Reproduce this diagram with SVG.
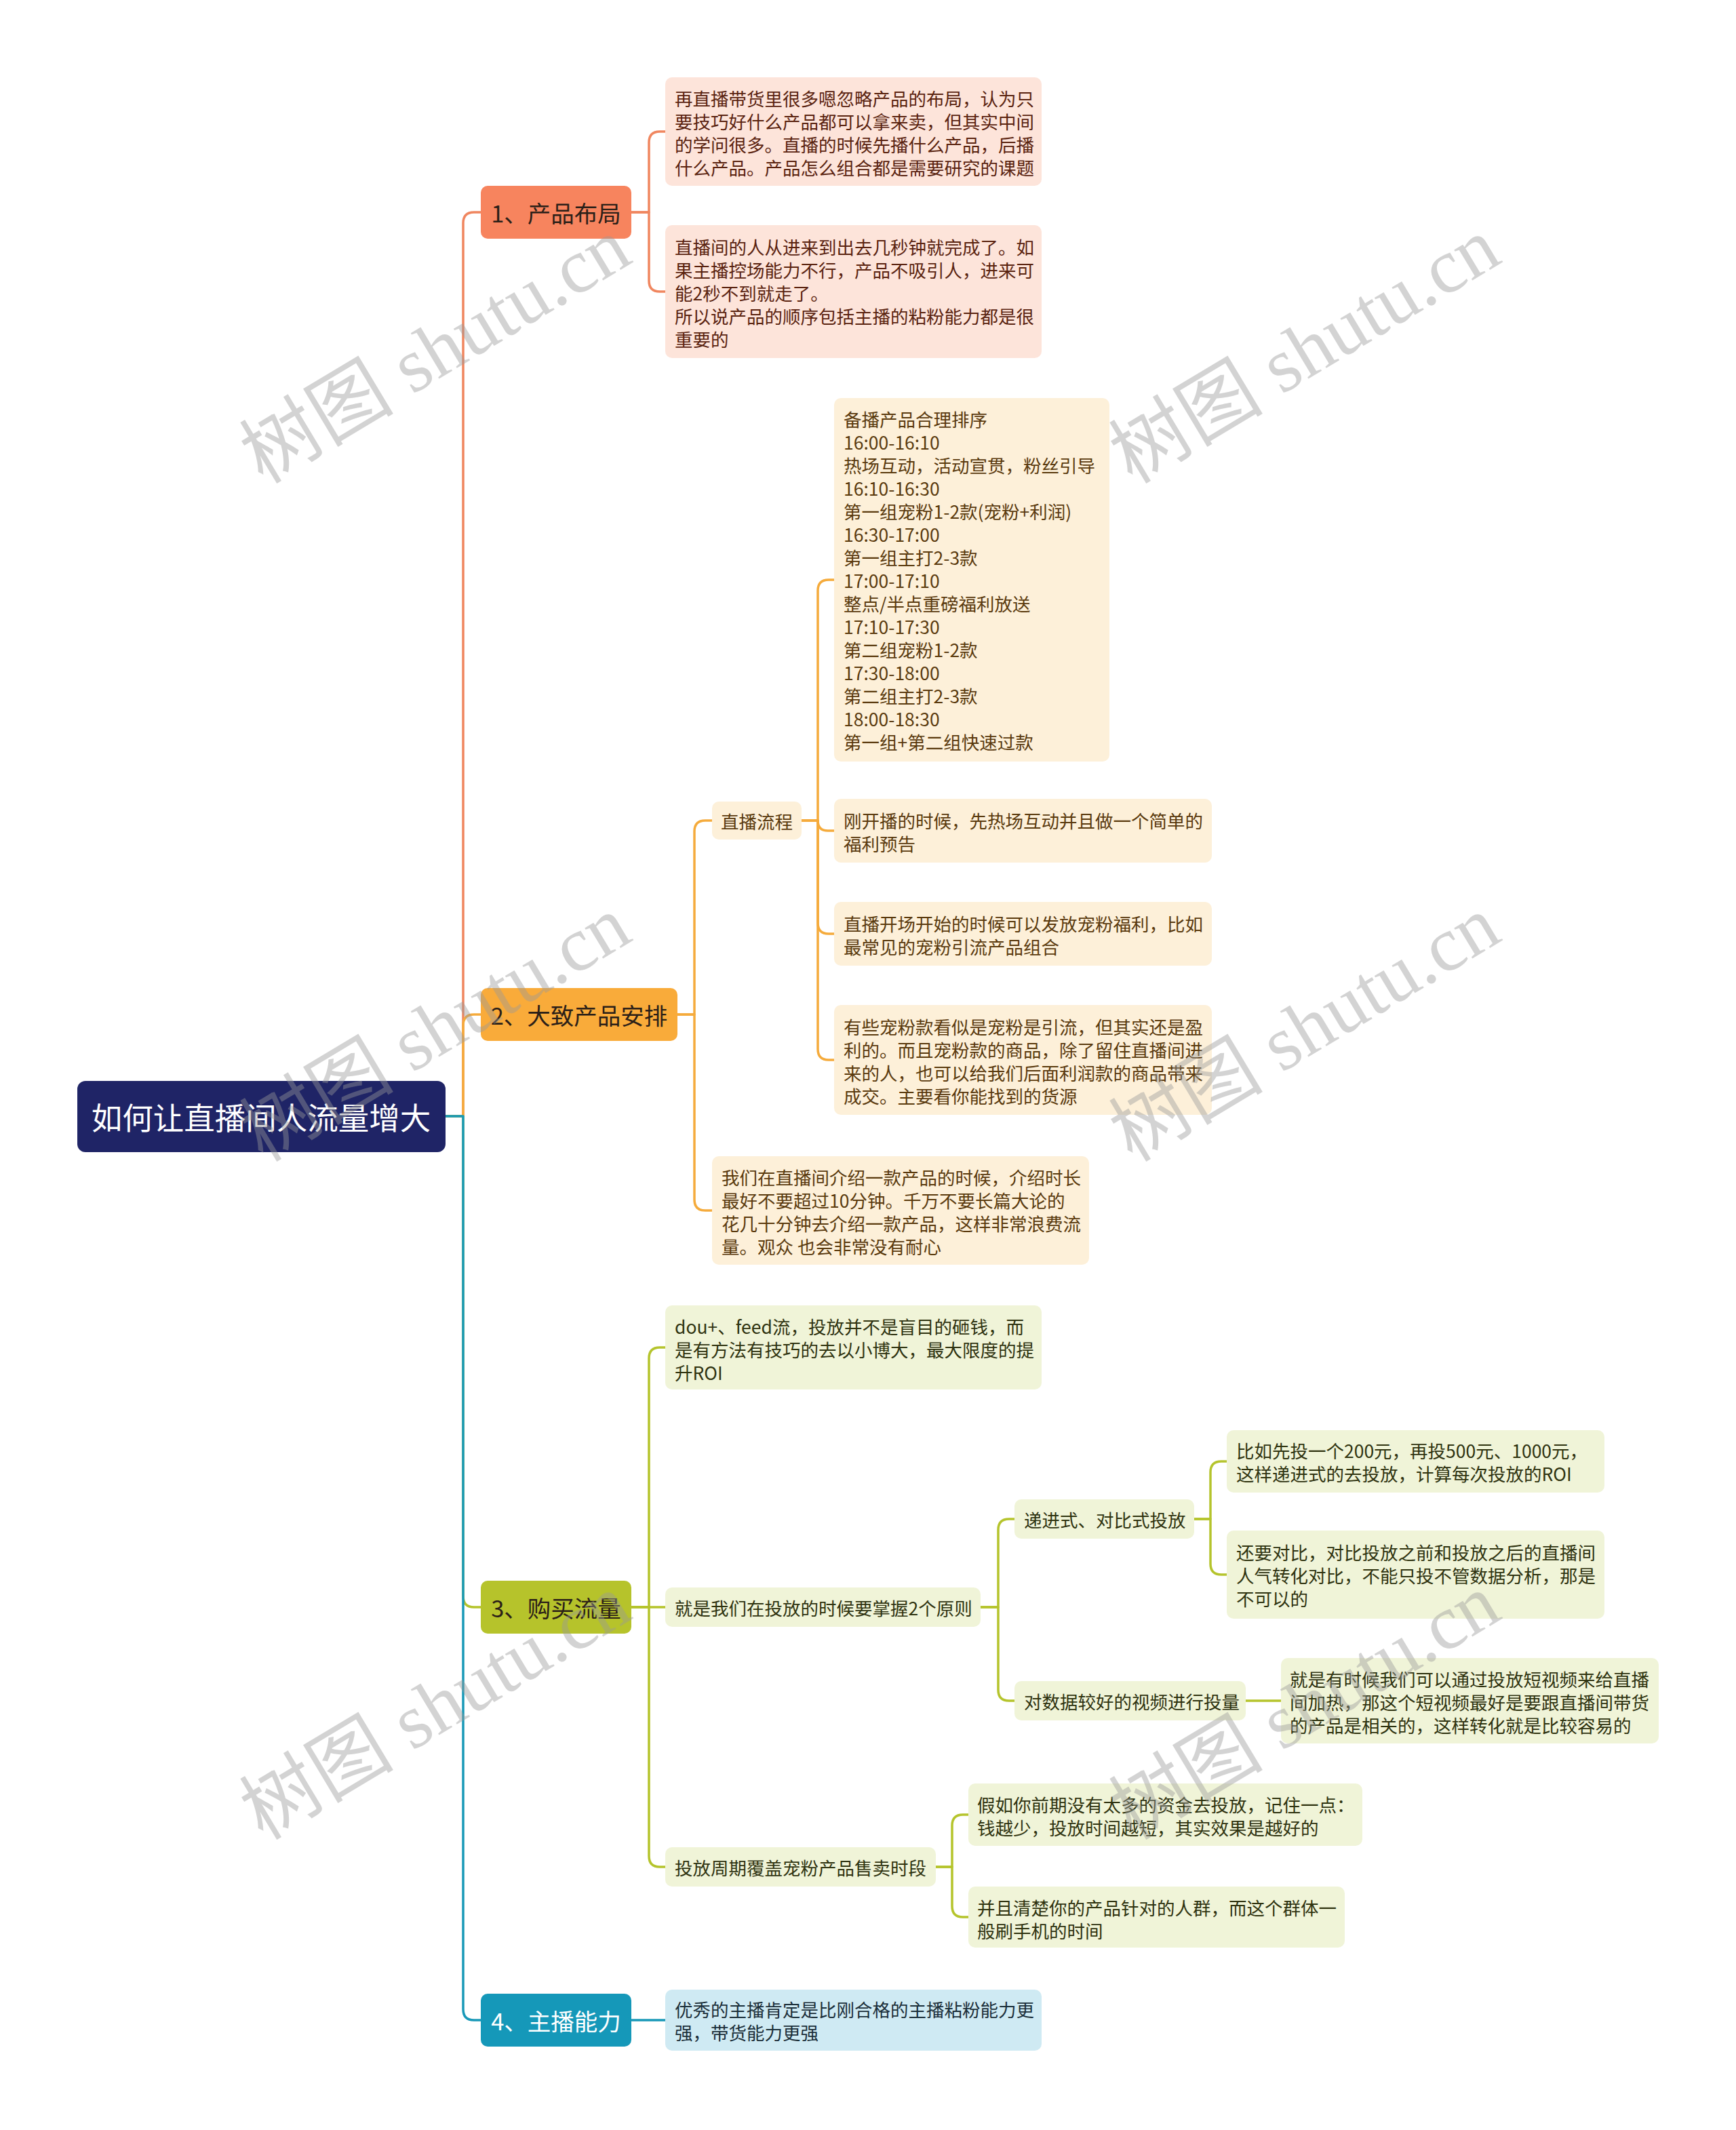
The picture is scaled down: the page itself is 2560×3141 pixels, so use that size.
<svg xmlns="http://www.w3.org/2000/svg" width="2560" height="3141" viewBox="0 0 2560 3141">
<style>
text{font-family:"Noto Sans CJK SC","Liberation Sans",sans-serif;}
.root{fill:#1f2466;}
.rt{fill:#ffffff;font-size:45.5px;}
.bt{font-size:34.5px;fill:#2b2018;}
.ct{font-size:26.5px;}
.b1{fill:#f7845e;}
.b2{fill:#f9ab3a;}
.b3{fill:#b6c32b;}
.b4{fill:#1598b9;}
.c1{fill:#fde4da;}
.c2{fill:#fdf0d9;}
.c3{fill:#f0f4d8;}
.c4{fill:#cfeaf3;}
.t1{fill:#5a2310;}
.t2{fill:#5a3a0e;}
.t3{fill:#2f3310;}
.t4{fill:#1b2f3a;}
.l{fill:none;stroke-width:3.5;stroke-linecap:round;stroke-linejoin:round;}
.s1{stroke:#f0865f;}
.s2{stroke:#f5ab3c;}
.s3{stroke:#b5c42c;}
.s4{stroke:#1a99b8;}
.wm{font-family:"Liberation Serif","Noto Sans CJK SC",serif;font-size:114px;fill:#999999;opacity:0.42;}
</style>
<rect width="2560" height="3141" fill="#ffffff"/>
<g id="connectors">
<path class="l s1" d="M657 1646 H683 V329 Q683 313 699 313 H709"/>
<path class="l s2" d="M657 1646 H683 V1512 Q683 1496 699 1496 H709"/>
<path class="l s3" d="M657 1646 H683 V2354 Q683 2370 699 2370 H709"/>
<path class="l s4" d="M657 1646 H683 V2963 Q683 2979 699 2979 H709"/>
<path class="l s1" d="M931 313 H957 V210 Q957 194 973 194 H981"/>
<path class="l s1" d="M931 313 H957 V414 Q957 430 973 430 H981"/>
<path class="l s2" d="M999 1496 H1024 V1226 Q1024 1210 1040 1210 H1050"/>
<path class="l s2" d="M999 1496 H1024 V1769 Q1024 1785 1040 1785 H1050"/>
<path class="l s2" d="M1182 1210 H1206 V871 Q1206 855 1222 855 H1230"/>
<path class="l s2" d="M1182 1210 H1206 Q1206 1225 1221 1225 H1230"/>
<path class="l s2" d="M1182 1210 H1206 V1361 Q1206 1377 1222 1377 H1230"/>
<path class="l s2" d="M1182 1210 H1206 V1547 Q1206 1563 1222 1563 H1230"/>
<path class="l s3" d="M931 2370 H957 V2003 Q957 1987 973 1987 H981"/>
<path class="l s3" d="M931 2370 H981"/>
<path class="l s3" d="M931 2370 H957 V2737 Q957 2753 973 2753 H981"/>
<path class="l s3" d="M1446 2370 H1472 V2256 Q1472 2240 1488 2240 H1496"/>
<path class="l s3" d="M1446 2370 H1472 V2492 Q1472 2508 1488 2508 H1496"/>
<path class="l s3" d="M1761 2240 H1785 V2171 Q1785 2155 1801 2155 H1809"/>
<path class="l s3" d="M1761 2240 H1785 V2306 Q1785 2322 1801 2322 H1809"/>
<path class="l s3" d="M1837 2508 H1889"/>
<path class="l s3" d="M1380 2753 H1404 V2692 Q1404 2676 1420 2676 H1428"/>
<path class="l s3" d="M1380 2753 H1404 V2811 Q1404 2827 1420 2827 H1428"/>
<path class="l s4" d="M931 2979 H981"/>
</g>
<g id="root">
<rect class="root" x="114" y="1594" width="543" height="105" rx="12"/>
<text class="rt" x="385" y="1646" text-anchor="middle" dominant-baseline="central">如何让直播间人流量增大</text>
</g>
<g id="b1">
<rect class="b1" x="709" y="274" width="222" height="78" rx="10"/>
<text class="bt" x="820" y="313" text-anchor="middle" dominant-baseline="central">1、产品布局</text>
</g>
<g id="b1a">
<rect class="c1" x="981" y="114" width="555" height="160" rx="10"/>
<text class="ct t1" dominant-baseline="central"><tspan x="995" y="144">再直播带货里很多嗯忽略产品的布局，认为只</tspan><tspan x="995" y="178">要技巧好什么产品都可以拿来卖，但其实中间</tspan><tspan x="995" y="212">的学问很多。直播的时候先播什么产品，后播</tspan><tspan x="995" y="246">什么产品。产品怎么组合都是需要研究的课题</tspan></text>
</g>
<g id="b1b">
<rect class="c1" x="981" y="332" width="555" height="196" rx="10"/>
<text class="ct t1" dominant-baseline="central"><tspan x="995" y="363">直播间的人从进来到出去几秒钟就完成了。如</tspan><tspan x="995" y="397">果主播控场能力不行，产品不吸引人，进来可</tspan><tspan x="995" y="431">能2秒不到就走了。</tspan><tspan x="995" y="465">所以说产品的顺序包括主播的粘粉能力都是很</tspan><tspan x="995" y="499">重要的</tspan></text>
</g>
<g id="b2">
<rect class="b2" x="709" y="1457" width="290" height="78" rx="10"/>
<text class="bt" x="854" y="1496" text-anchor="middle" dominant-baseline="central">2、大致产品安排</text>
</g>
<g id="b2a">
<rect class="c2" x="1050" y="1182" width="132" height="56" rx="10"/>
<text class="ct t2" x="1116" y="1210" text-anchor="middle" dominant-baseline="central">直播流程</text>
</g>
<g id="b2a1">
<rect class="c2" x="1230" y="587" width="406" height="536" rx="10"/>
<text class="ct t2" dominant-baseline="central"><tspan x="1244" y="617">备播产品合理排序</tspan><tspan x="1244" y="651">16:00-16:10</tspan><tspan x="1244" y="685">热场互动，活动宣贯，粉丝引导</tspan><tspan x="1244" y="719">16:10-16:30</tspan><tspan x="1244" y="753">第一组宠粉1-2款(宠粉+利润)</tspan><tspan x="1244" y="787">16:30-17:00</tspan><tspan x="1244" y="821">第一组主打2-3款</tspan><tspan x="1244" y="855">17:00-17:10</tspan><tspan x="1244" y="889">整点/半点重磅福利放送</tspan><tspan x="1244" y="923">17:10-17:30</tspan><tspan x="1244" y="957">第二组宠粉1-2款</tspan><tspan x="1244" y="991">17:30-18:00</tspan><tspan x="1244" y="1025">第二组主打2-3款</tspan><tspan x="1244" y="1059">18:00-18:30</tspan><tspan x="1244" y="1093">第一组+第二组快速过款</tspan></text>
</g>
<g id="b2a2">
<rect class="c2" x="1230" y="1178" width="557" height="94" rx="10"/>
<text class="ct t2" dominant-baseline="central"><tspan x="1244" y="1209">刚开播的时候，先热场互动并且做一个简单的</tspan><tspan x="1244" y="1243">福利预告</tspan></text>
</g>
<g id="b2a3">
<rect class="c2" x="1230" y="1330" width="557" height="94" rx="10"/>
<text class="ct t2" dominant-baseline="central"><tspan x="1244" y="1361">直播开场开始的时候可以发放宠粉福利，比如</tspan><tspan x="1244" y="1395">最常见的宠粉引流产品组合</tspan></text>
</g>
<g id="b2a4">
<rect class="c2" x="1230" y="1482" width="557" height="162" rx="10"/>
<text class="ct t2" dominant-baseline="central"><tspan x="1244" y="1513">有些宠粉款看似是宠粉是引流，但其实还是盈</tspan><tspan x="1244" y="1547">利的。而且宠粉款的商品，除了留住直播间进</tspan><tspan x="1244" y="1581">来的人，也可以给我们后面利润款的商品带来</tspan><tspan x="1244" y="1615">成交。主要看你能找到的货源</tspan></text>
</g>
<g id="b2b">
<rect class="c2" x="1050" y="1705" width="556" height="160" rx="10"/>
<text class="ct t2" dominant-baseline="central"><tspan x="1064" y="1735">我们在直播间介绍一款产品的时候，介绍时长</tspan><tspan x="1064" y="1769">最好不要超过10分钟。千万不要长篇大论的</tspan><tspan x="1064" y="1803">花几十分钟去介绍一款产品，这样非常浪费流</tspan><tspan x="1064" y="1837">量。观众 也会非常没有耐心</tspan></text>
</g>
<g id="b3">
<rect class="b3" x="709" y="2331" width="222" height="78" rx="10"/>
<text class="bt" x="820" y="2370" text-anchor="middle" dominant-baseline="central">3、购买流量</text>
</g>
<g id="b3a">
<rect class="c3" x="981" y="1925" width="555" height="124" rx="10"/>
<text class="ct t3" dominant-baseline="central"><tspan x="995" y="1955">dou+、feed流，投放并不是盲目的砸钱，而</tspan><tspan x="995" y="1989">是有方法有技巧的去以小博大，最大限度的提</tspan><tspan x="995" y="2023">升ROI</tspan></text>
</g>
<g id="b3b">
<rect class="c3" x="981" y="2341" width="465" height="58" rx="10"/>
<text class="ct t3" x="995" y="2370" dominant-baseline="central">就是我们在投放的时候要掌握2个原则</text>
</g>
<g id="b3b1">
<rect class="c3" x="1496" y="2211" width="265" height="58" rx="10"/>
<text class="ct t3" x="1510" y="2240" dominant-baseline="central">递进式、对比式投放</text>
</g>
<g id="b3b1a">
<rect class="c3" x="1809" y="2109" width="557" height="92" rx="10"/>
<text class="ct t3" dominant-baseline="central"><tspan x="1823" y="2138">比如先投一个200元，再投500元、1000元，</tspan><tspan x="1823" y="2172">这样递进式的去投放，计算每次投放的ROI</tspan></text>
</g>
<g id="b3b1b">
<rect class="c3" x="1809" y="2257" width="557" height="130" rx="10"/>
<text class="ct t3" dominant-baseline="central"><tspan x="1823" y="2288">还要对比，对比投放之前和投放之后的直播间</tspan><tspan x="1823" y="2322">人气转化对比，不能只投不管数据分析，那是</tspan><tspan x="1823" y="2356">不可以的</tspan></text>
</g>
<g id="b3b2">
<rect class="c3" x="1496" y="2479" width="341" height="58" rx="10"/>
<text class="ct t3" x="1510" y="2508" dominant-baseline="central">对数据较好的视频进行投量</text>
</g>
<g id="b3b2a">
<rect class="c3" x="1889" y="2445" width="557" height="126" rx="10"/>
<text class="ct t3" dominant-baseline="central"><tspan x="1902" y="2475">就是有时候我们可以通过投放短视频来给直播</tspan><tspan x="1902" y="2509">间加热，那这个短视频最好是要跟直播间带货</tspan><tspan x="1902" y="2543">的产品是相关的，这样转化就是比较容易的</tspan></text>
</g>
<g id="b3c">
<rect class="c3" x="981" y="2724" width="399" height="58" rx="10"/>
<text class="ct t3" x="995" y="2753" dominant-baseline="central">投放周期覆盖宠粉产品售卖时段</text>
</g>
<g id="b3c1">
<rect class="c3" x="1428" y="2630" width="581" height="92" rx="10"/>
<text class="ct t3" dominant-baseline="central"><tspan x="1441" y="2660">假如你前期没有太多的资金去投放，记住一点：</tspan><tspan x="1441" y="2694">钱越少，投放时间越短，其实效果是越好的</tspan></text>
</g>
<g id="b3c2">
<rect class="c3" x="1428" y="2782" width="555" height="90" rx="10"/>
<text class="ct t3" dominant-baseline="central"><tspan x="1441" y="2812">并且清楚你的产品针对的人群，而这个群体一</tspan><tspan x="1441" y="2846">般刷手机的时间</tspan></text>
</g>
<g id="b4">
<rect class="b4" x="709" y="2940" width="222" height="78" rx="10"/>
<text class="bt" x="820" y="2979" text-anchor="middle" dominant-baseline="central" style="fill:#ffffff">4、主播能力</text>
</g>
<g id="b4a">
<rect class="c4" x="981" y="2934" width="555" height="90" rx="10"/>
<text class="ct t4" dominant-baseline="central"><tspan x="995" y="2962">优秀的主播肯定是比刚合格的主播粘粉能力更</tspan><tspan x="995" y="2996">强，带货能力更强</tspan></text>
</g>
<g id="watermarks">
<text class="wm" text-anchor="middle" dominant-baseline="central" transform="translate(642 517) rotate(-31)">树图 shutu.cn</text>
<text class="wm" text-anchor="middle" dominant-baseline="central" transform="translate(1924 517) rotate(-31)">树图 shutu.cn</text>
<text class="wm" text-anchor="middle" dominant-baseline="central" transform="translate(642 1517) rotate(-31)">树图 shutu.cn</text>
<text class="wm" text-anchor="middle" dominant-baseline="central" transform="translate(1924 1517) rotate(-31)">树图 shutu.cn</text>
<text class="wm" text-anchor="middle" dominant-baseline="central" transform="translate(642 2517) rotate(-31)">树图 shutu.cn</text>
<text class="wm" text-anchor="middle" dominant-baseline="central" transform="translate(1924 2517) rotate(-31)">树图 shutu.cn</text>
</g>
</svg>
